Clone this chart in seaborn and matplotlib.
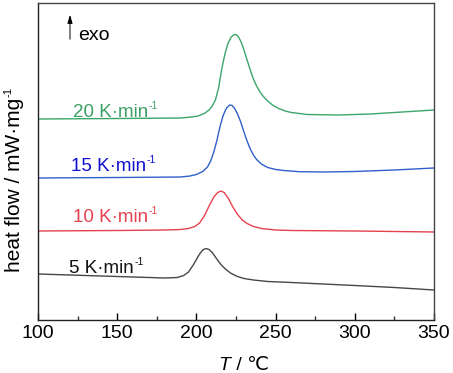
import matplotlib
matplotlib.use("Agg")
import matplotlib.pyplot as plt
from matplotlib.ticker import MultipleLocator
import seaborn as sns

# DSC curves (y in arbitrary heat-flow units, exo up)
t_5 = [100, 130, 160, 180, 188, 192, 195, 198, 200, 202, 204, 206, 208, 210, 212,
       214, 216, 219, 222, 226, 230, 236, 245, 260, 300, 325, 350]
hf_5 = [46, 44.5, 43, 42, 42.5, 44.5, 48, 55, 60.5, 66, 70, 71.5, 70.5, 67.5, 63,
        58.5, 54.5, 50, 46.5, 43.5, 41.5, 40, 38.5, 37.5, 34.5, 32.5, 30]

t_10 = [100, 150, 180, 190, 195, 199, 202, 205, 208, 211, 213.5, 215.5, 217.5, 220,
        223, 226, 229, 232, 236, 241, 250, 260, 300, 350]
hf_10 = [89, 89.5, 90, 90.5, 91.5, 93.5, 97, 104, 114, 123, 127.5, 129, 127.5, 122,
         113, 105.5, 100, 96.5, 93.5, 91.5, 90, 89.5, 89, 88]

t_15 = [100, 150, 190, 196, 200, 204, 207, 209, 211, 213, 215, 217, 219, 221, 222.5,
        224, 226, 228, 230, 232, 234, 236, 238, 241, 245, 250, 255, 265, 280, 300,
        325, 350]
hf_15 = [142, 142.5, 143, 144, 145.5, 148.5, 153, 159, 168, 180, 194, 205, 212, 215,
         214.5, 212, 206, 198, 188, 179, 171, 165, 160.5, 156, 152.5, 150.5, 149.5,
         148.3, 148, 148.5, 150, 152]

t_20 = [100, 150, 190, 197, 201, 205, 208, 210, 212, 214, 216, 218, 220, 222, 224,
        225.5, 227, 228.5, 230, 232, 234, 236, 238, 240, 242, 245, 248, 252, 256,
        260, 270, 290, 310, 330, 350]
hf_20 = [201, 201.5, 202, 203, 204, 206.5, 210, 214, 220, 232, 251, 266, 277, 283,
         285.5, 285, 282, 277, 270, 260, 250, 241, 234, 228.5, 224, 219, 215, 211.5,
         209, 207.5, 205.5, 205, 206, 208, 210]

rates = ["5", "10", "15", "20"]
line_colors = ["#474747", "#e5414f", "#2f5fc9", "#3ca66a"]
text_colors = ["#111111", "#e5414f", "#1010d0", "#3ca066"]
label_pos = [(119.6, 47), (122, 98), (120.8, 149), (122, 203)]

sns.set_style("ticks")
plt.rcParams["font.family"] = ["Liberation Sans", "DejaVu Sans"]
plt.rcParams["text.color"] = "black"
plt.rcParams["xtick.color"] = "black"
plt.rcParams["xtick.labelcolor"] = "black"

W, H = 453, 373
fig = plt.figure(figsize=(W / 100, H / 100), dpi=100)
ax = fig.add_axes([38 / W, 53 / H, 396 / W, 317 / H])

series = [(t_5, hf_5), (t_10, hf_10), (t_15, hf_15), (t_20, hf_20)]
for (t, hf), c in zip(series, line_colors):
    sns.lineplot(x=t, y=hf, ax=ax, color=c, linewidth=1.0)

ax.set_xlim(100, 350)
ax.set_ylim(0, 317)
ax.xaxis.set_major_locator(MultipleLocator(50))
ax.xaxis.set_minor_locator(MultipleLocator(25))
ax.tick_params(axis="x", which="major", direction="in", length=5, width=1,
               labelsize=14, pad=3.5, colors="black")
ax.tick_params(axis="x", which="minor", direction="in", length=3, width=1,
               colors="#333333")
ax.set_yticks([])
ax.set_xlabel("")
ax.set_ylabel("")

for name, s in ax.spines.items():
    s.set_visible(True)
    s.set_color("#222222" if name in ("left", "bottom") else "#444444")
    s.set_linewidth(1.0)

# rate labels (superscripts added after a draw)
rate_texts = []
for rate, c, (tx, ty) in zip(rates, text_colors, label_pos):
    rate_texts.append(ax.text(tx, ty, rate + " K·min", color=c, fontsize=13.5,
                              ha="left", va="baseline"))

# exo arrow
ax.annotate("", xy=(120.2, 308), xytext=(120.2, 278),
            arrowprops=dict(arrowstyle="-|>,head_length=0.5,head_width=0.15",
                            color="black", lw=0.7))
ax.text(125.3, 280, "exo", fontsize=14, ha="left", va="baseline")

# axis labels
xl_T = fig.text(218 / W, 3.5 / H, "T", fontsize=14, style="italic",
                ha="left", va="baseline")
ylab = fig.text(20 / W, 188 / H, "heat flow / mW·mg", fontsize=15, rotation=90,
                rotation_mode="anchor", ha="center", va="baseline")

fig.canvas.draw()
r = fig.canvas.get_renderer()

bb = xl_T.get_window_extent(r)
fig.text((bb.x1 + 1) / W, 3.5 / H, " / ℃", fontsize=14, ha="left", va="baseline")

for t, c, (tx, ty) in zip(rate_texts, text_colors, label_pos):
    bb = t.get_window_extent(r)
    base = ax.transData.transform((tx, ty))[1]
    fig.text((bb.x1 + 0.5) / W, (base + 8) / H, "-1", color=c, fontsize=7.5,
             ha="left", va="baseline")

bb = ylab.get_window_extent(r)
fig.text((20 - 8.5) / W, (bb.y1 + 1) / H, "-1", fontsize=8, rotation=90,
         rotation_mode="anchor", ha="left", va="baseline")

fig.savefig("out.png", dpi=100)
